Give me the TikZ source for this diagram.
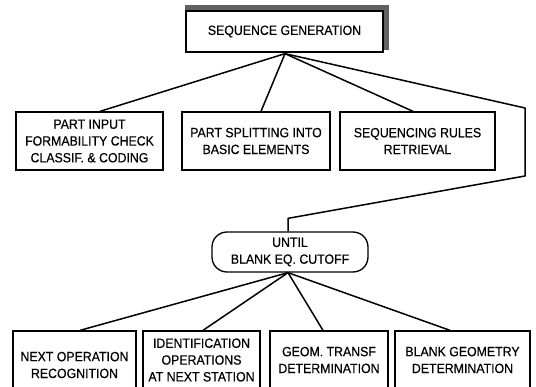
\documentclass[tikz,border=0pt]{standalone}
\usepackage{fontspec}
\setmainfont{Liberation Sans}[FakeStretch=0.92,FakeBold=0.4]
\usetikzlibrary{calc}
\begin{document}
\begin{tikzpicture}[x=1pt,y=-1pt,
  box/.style={draw, line width=1.3pt, fill=white, align=center, inner sep=0pt,
    font=\fontsize{13.4}{16.8}\selectfont},
  link/.style={line width=1.5pt, line join=round},
  shade/.style={fill=black!62}]
\useasboundingbox (0,0) rectangle (536,387);
\clip (0,0) rectangle (536,387);
\fill[white] (0,0) rectangle (536,387);
% top box with shadow band
\node[box, minimum width=197pt, minimum height=41pt] (seq) at (284.5,31.5) {SEQUENCE GENERATION};
\path[shade] ($(seq.north west)+(-0.6,-5.5)$) rectangle ($(seq.north east)+(5.5,0)$);
\path[shade] ($(seq.north east)+(0,0)$) rectangle ($(seq.south east)+(5.5,-3)$);
% second row
\node[box, minimum width=147pt, minimum height=58pt] (b1) at (89.5,141) {PART INPUT\\FORMABILITY CHECK\\CLASSIF. \& CODING};
\node[box, minimum width=148pt, minimum height=58pt] (b2) at (256,141) {PART SPLITTING INTO\\BASIC ELEMENTS};
\node[box, minimum width=155pt, minimum height=58pt] (b3) at (417.5,141) {SEQUENCING RULES\\RETRIEVAL};
% loop node
\node[box, rounded corners=15pt, minimum width=156pt, minimum height=40pt] (until) at (290,252) {UNTIL\\BLANK EQ. CUTOFF};
% bottom row
\node[box, minimum width=123pt, minimum height=68pt] (c1) at (74.5,365) {NEXT OPERATION\\RECOGNITION};
\node[box, minimum width=117pt, minimum height=58pt] (c2) at (201.5,360) {IDENTIFICATION\\OPERATIONS\\AT NEXT STATION};
\node[box, minimum width=118pt, minimum height=58pt] (c3) at (329,360) {GEOM. TRANSF\\DETERMINATION};
\node[box, minimum width=135pt, minimum height=58pt] (c4) at (462.5,360) {BLANK GEOMETRY\\DETERMINATION};
% connectors
\coordinate (hub) at ($(seq.south)+(0.5,1)$);
\draw[link] (hub) -- ($(b1.north)+(10.5,0)$);
\draw[link] (hub) -- ($(b2.north)+(5,0)$);
\draw[link] (hub) -- ($(b3.north)+(-4.5,0)$);
\coordinate (r1) at (525,108);
\coordinate (r2) at (525,176);
\coordinate (r3) at ($(until.north)+(-2,-13)$);
\draw[link] (hub) -- (r1) -- (r2) -- (r3) -- (r3 |- until.north);
\coordinate (hub2) at ($(until.south)+(-2,0)$);
\draw[link] (hub2) -- ($(c1.north)+(5.5,0)$);
\draw[link] (hub2) -- ($(c2.north)+(1.5,0)$);
\draw[link] (hub2) -- ($(c3.north)+(-6,0)$);
\draw[link] (hub2) -- ($(c4.north)+(-12.5,0)$);
\end{tikzpicture}
\end{document}
